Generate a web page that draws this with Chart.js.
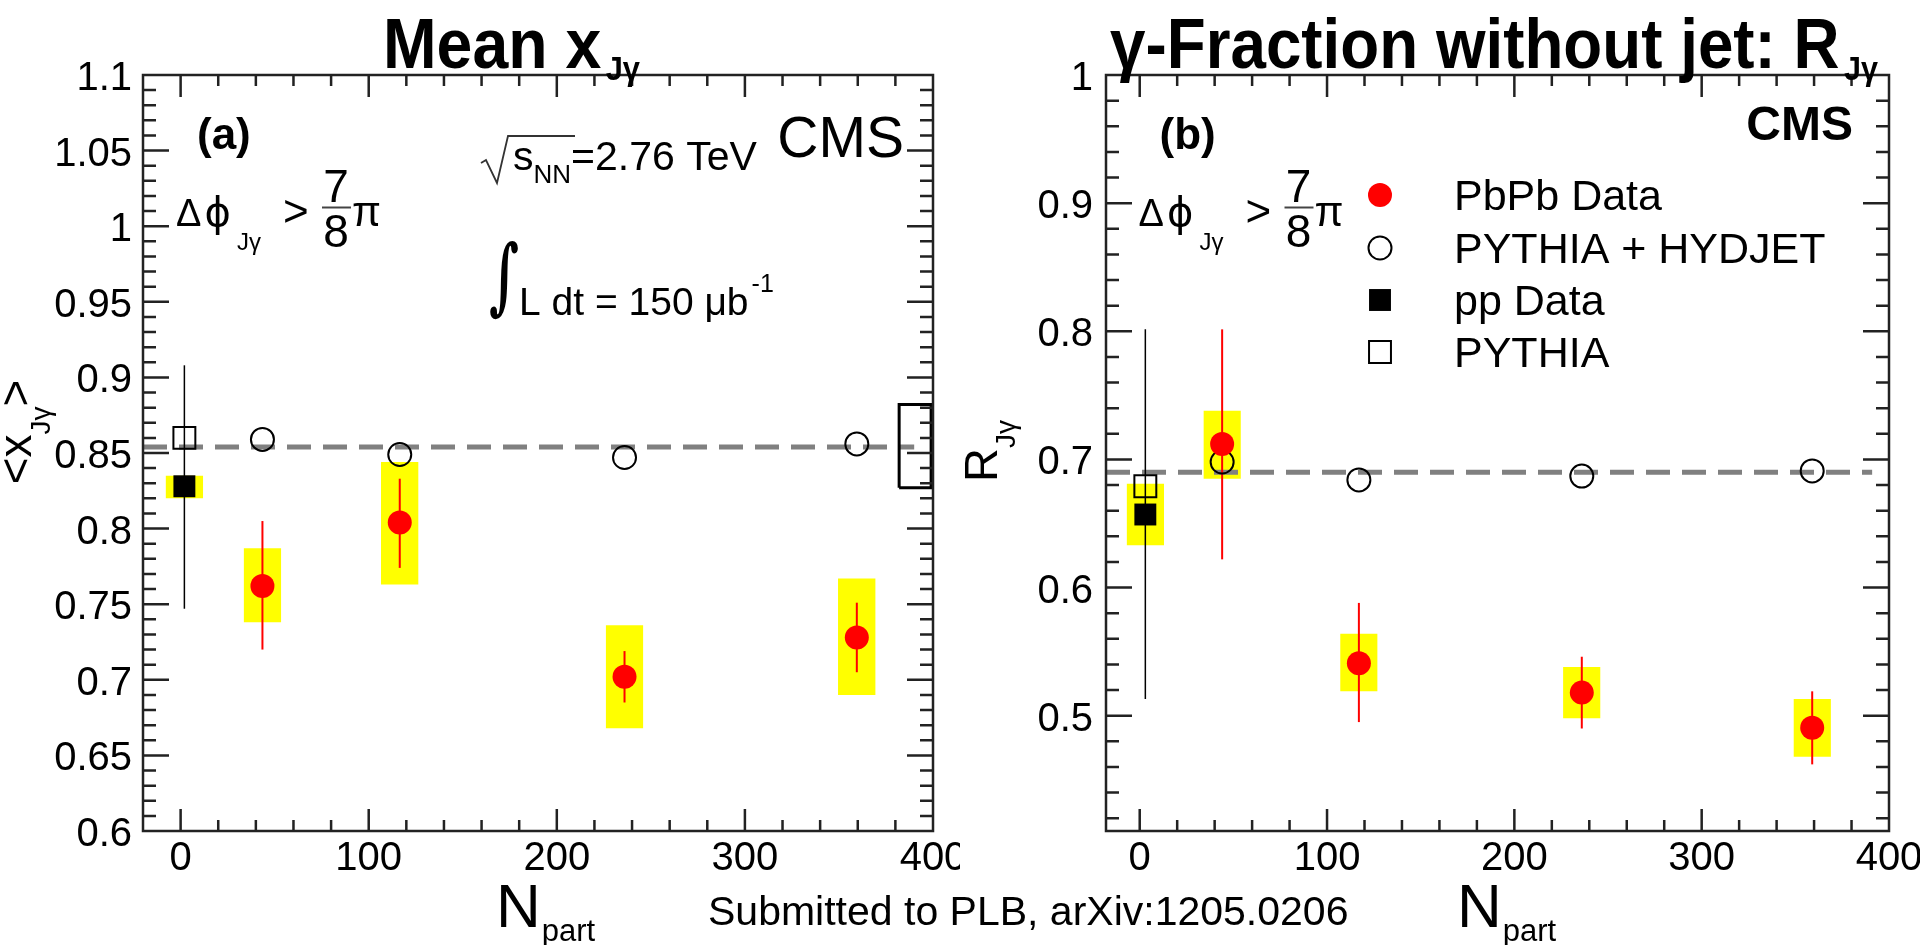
<!DOCTYPE html>
<html>
<head>
<meta charset="utf-8">
<title>Mean xJγ and RJγ vs Npart</title>
<script src="https://cdn.jsdelivr.net/npm/chart.js@4.4.1/dist/chart.umd.min.js"></script>
<style>
  html, body { margin: 0; padding: 0; background: #fff; overflow: hidden; }
  #wrap { position: relative; width: 1920px; height: 945px; }
  .pad { position: absolute; top: 0; width: 960px; height: 945px; overflow: hidden; }
  #note { position: absolute; left: 708px; top: 891px; font: 41px/1 "Liberation Sans", Arial, sans-serif; white-space: nowrap; color: #000; }
</style>
</head>
<body>
<div id="wrap">
  <div class="pad" style="left:0"><canvas id="cA" width="960" height="945"></canvas></div>
  <div class="pad" style="left:960px"><canvas id="cB" width="960" height="945"></canvas></div>
  <div id="note">Submitted to PLB, arXiv:1205.0206</div>
</div>
<script>
// N_part of the four PbPb centrality bins
const nPartA = [43.5, 116.5, 236, 359.5];
const nPartB = [44, 117, 236, 359];

// (a) mean x_Jγ
const xjPbPb   = [0.762, 0.804, 0.702, 0.728];
const xjStatLo = [0.720, 0.774, 0.685, 0.705];
const xjStatHi = [0.805, 0.833, 0.719, 0.751];
const xjSysLo  = [0.738, 0.763, 0.668, 0.690];
const xjSysHi  = [0.787, 0.844, 0.736, 0.767];
const xjHydjet = [0.859, 0.849, 0.847, 0.856];
const xjPp     = [2, 0.828];      // N_part, value
const xjPpStat = [0.747, 0.908];
const xjPpSys  = [0.820, 0.835];
const xjPythia = [2, 0.860];
const xjRefN   = [-20, 390];      // dashed PYTHIA+HYDJET mean
const xjRefY   = 0.854;
const xjNormN  = [382, 399];      // normalisation uncertainty box
const xjNormY  = [0.827, 0.882];

// (b) R_Jγ
const rjPbPb   = [0.712, 0.541, 0.518, 0.4905];
const rjStatLo = [0.622, 0.495, 0.490, 0.462];
const rjStatHi = [0.8015, 0.588, 0.546, 0.519];
const rjSysLo  = [0.685, 0.519, 0.498, 0.468];
const rjSysHi  = [0.738, 0.564, 0.538, 0.513];
const rjHydjet = [0.698, 0.684, 0.687, 0.691];
const rjPp     = [3, 0.657];
const rjPpStat = [0.513, 0.8015];
const rjPpSys  = [0.633, 0.681];
const rjPythia = [3, 0.679];
const rjRefN   = [-18, 391];
const rjRefY   = 0.690;

// axes
const nTicks = [0, 100, 200, 300, 400];
const nTickLabels = ['0', '100', '200', '300', '400'];
const xjTicks = [0.6, 0.65, 0.7, 0.75, 0.8, 0.85, 0.9, 0.95, 1, 1.05, 1.1];
const xjTickLabels = ['0.6', '0.65', '0.7', '0.75', '0.8', '0.85', '0.9', '0.95', '1', '1.05', '1.1'];
const rjTicks = [0.5, 0.6, 0.7, 0.8, 0.9, 1];
const rjTickLabels = ['0.5', '0.6', '0.7', '0.8', '0.9', '1'];
const legendLabels = ['PbPb Data', 'PYTHIA + HYDJET', 'pp Data', 'PYTHIA'];

const SYS_HALF = 10; // half width of the systematic boxes in N_part
const FONT = '"Liberation Sans", Arial, Helvetica, "DejaVu Sans", sans-serif';
const SERIF = '"DejaVu Serif", "Liberation Serif", serif';
const RED = '#ff0000', YELLOW = '#ffff00', GRAY = '#808080', INK = '#222';
const NONE = 'rgba(0,0,0,0)';

const markers = {
  pbpb:   { pointStyle: 'circle', radius: 12,   fill: RED,    stroke: RED,    bw: 0 },
  hydjet: { pointStyle: 'circle', radius: 11.5, fill: NONE,   stroke: '#000', bw: 2 },
  pp:     { pointStyle: 'rect',   radius: 15.5, fill: '#000', stroke: '#000', bw: 0 },
  pythia: { pointStyle: 'rect',   radius: 15.5, fill: NONE,   stroke: '#000', bw: 2 }
};

function f(size, bold) { return (bold ? 'bold ' : '') + size + 'px ' + FONT; }

function band(n, lo, hi) {
  return { type: 'line', data: [{ x: n - SYS_HALF, y: hi }, { x: n + SYS_HALF, y: hi }],
    fill: { value: lo }, backgroundColor: YELLOW, borderColor: NONE, borderWidth: 0, pointRadius: 0, order: 10 };
}
function vbar(n, lo, hi, color, w) {
  return { type: 'line', data: [{ x: n, y: lo }, { x: n, y: hi }],
    borderColor: color, borderWidth: w, pointRadius: 0, fill: false, order: 7 };
}
function marks(pts, m, order) {
  return { type: 'scatter', data: pts, pointStyle: m.pointStyle, pointRadius: m.radius,
    pointBackgroundColor: m.fill, pointBorderColor: m.stroke, pointBorderWidth: m.bw, order: order };
}

function makeDatasets(d) {
  const ds = [];
  d.n.forEach((n, i) => ds.push(band(n, d.sysLo[i], d.sysHi[i])));
  ds.push(band(d.pp[0], d.ppSys[0], d.ppSys[1]));
  ds.push({ type: 'line', data: d.refN.map(x => ({ x: x, y: d.refY })), borderColor: GRAY, borderWidth: 5,
    borderDash: [24, 12], pointRadius: 0, fill: false, order: 9 });
  if (d.normN) {
    const c = [[0, 0], [1, 0], [1, 1], [0, 1], [0, 0]];
    ds.push({ type: 'line', data: c.map(([i, j]) => ({ x: d.normN[i], y: d.normY[j] })), borderColor: '#000',
      borderWidth: 3, borderJoinStyle: 'miter', pointRadius: 0, fill: false, order: 8 });
  }
  d.n.forEach((n, i) => ds.push(vbar(n, d.statLo[i], d.statHi[i], RED, 2)));
  ds.push(vbar(d.pp[0], d.ppStat[0], d.ppStat[1], '#000', 1.5));
  ds.push(marks(d.n.map((n, i) => ({ x: n, y: d.hydjet[i] })), markers.hydjet, 5));
  ds.push(marks([{ x: d.pythia[0], y: d.pythia[1] }], markers.pythia, 5));
  ds.push(marks([{ x: d.pp[0], y: d.pp[1] }], markers.pp, 4));
  ds.push(marks(d.n.map((n, i) => ({ x: n, y: d.pbpb[i] })), markers.pbpb, 3));
  return ds;
}

// text with sub/superscript pieces; optional horizontal squeeze and rotation
function drawRich(ctx, parts, x, y, o) {
  o = o || {};
  ctx.save();
  ctx.translate(x, y);
  if (o.rot) ctx.rotate(o.rot);
  let w = 0;
  parts.forEach(p => { ctx.font = p.f; p.w = ctx.measureText(p.t).width; w += p.w + (p.gap || 0); });
  if (o.width) ctx.scale(o.width / w, 1);
  let cx = o.align === 'center' ? -w / 2 : o.align === 'right' ? -w : 0;
  ctx.textAlign = 'left';
  ctx.textBaseline = 'alphabetic';
  ctx.fillStyle = '#000';
  parts.forEach(p => { ctx.font = p.f; ctx.fillText(p.t, cx, p.dy || 0); cx += p.w + (p.gap || 0); });
  ctx.restore();
}

function drawMarker(ctx, m, x, y) {
  ctx.save();
  ctx.fillStyle = m.fill; ctx.strokeStyle = m.stroke; ctx.lineWidth = m.bw || 1;
  ctx.beginPath();
  if (m.pointStyle === 'circle') ctx.arc(x, y, m.radius, 0, Math.PI * 2);
  else { const s = m.radius * Math.SQRT1_2; ctx.rect(x - s, y - s, 2 * s, 2 * s); }
  ctx.fill();
  if (m.bw > 0) ctx.stroke();
  ctx.restore();
}

function drawDphi(ctx, x0) {
  drawRich(ctx, [{ t: 'Δ', f: f(38), gap: 3 }, { t: 'ϕ', f: '40px "DejaVu Sans", sans-serif' }], x0, 226);
  drawRich(ctx, [{ t: 'Jγ', f: f(24) }], x0 + 61, 250);
  drawRich(ctx, [{ t: '>', f: f(44) }], x0 + 107, 226);
  drawRich(ctx, [{ t: '7', f: f(46) }], x0 + 160, 202, { align: 'center' });
  ctx.save(); ctx.strokeStyle = '#444'; ctx.lineWidth = 2;
  ctx.beginPath(); ctx.moveTo(x0 + 146, 207.5); ctx.lineTo(x0 + 175, 207.5); ctx.stroke(); ctx.restore();
  drawRich(ctx, [{ t: '8', f: f(46) }], x0 + 160, 247, { align: 'center' });
  drawRich(ctx, [{ t: 'π', f: f(42) }], x0 + 176, 226);
}

function textsA(ctx) {
  drawRich(ctx, [{ t: 'Mean x', f: f(71, true), gap: 5 }, { t: 'Jγ', f: f(34, true), dy: 12 }], 383, 68, { width: 257 });
  drawRich(ctx, [{ t: '(a)', f: f(44, true) }], 197, 149);
  drawRich(ctx, [{ t: 'CMS', f: f(57) }], 904, 157, { align: 'right' });
  drawDphi(ctx, 176);
  ctx.save(); ctx.strokeStyle = '#333'; ctx.lineWidth = 1.8;
  ctx.beginPath(); ctx.moveTo(481, 163); ctx.lineTo(486, 160); ctx.lineTo(497, 183); ctx.lineTo(508, 136); ctx.lineTo(575, 136);
  ctx.stroke(); ctx.restore();
  drawRich(ctx, [{ t: 's', f: f(41) }, { t: 'NN', f: f(26), dy: 13 }, { t: '=2.76 TeV', f: f(41) }], 513, 170);
  ctx.save(); ctx.translate(489, 304); ctx.scale(1, 1.6); ctx.font = 'bold 52px ' + SERIF; ctx.fillStyle = '#000';
  ctx.fillText('∫', 0, 0); ctx.restore();
  drawRich(ctx, [{ t: 'L dt = 150 μb', f: f(39), gap: 3 }, { t: '-1', f: f(25), dy: -23 }], 519, 315);
  drawRich(ctx, [{ t: '<x', f: f(46) }, { t: 'Jγ', f: f(28), dy: 19 }, { t: '>', f: f(46) }], 31, 432, { rot: -Math.PI / 2, align: 'center' });
  drawRich(ctx, [{ t: 'N', f: f(62), gap: 1 }, { t: 'part', f: f(31), dy: 14 }], 496, 927);
}

function textsB(ctx) {
  drawRich(ctx, [{ t: 'γ-Fraction without jet: R', f: f(71, true), gap: 5 }, { t: 'Jγ', f: f(34, true), dy: 12 }], 150, 68, { width: 768 });
  drawRich(ctx, [{ t: '(b)', f: f(44, true) }], 199.5, 149);
  drawRich(ctx, [{ t: 'CMS', f: f(48, true) }], 893, 140, { align: 'right' });
  drawDphi(ctx, 178.5);
  const rows = [195, 248, 300, 352];
  const ms = [markers.pbpb, markers.hydjet, markers.pp, markers.pythia];
  legendLabels.forEach((lab, i) => {
    drawMarker(ctx, ms[i], 420, rows[i]);
    drawRich(ctx, [{ t: lab, f: f(43) }], 494, rows[i] + 15);
  });
  drawRich(ctx, [{ t: 'R', f: f(47) }, { t: 'Jγ', f: f(28), dy: 18 }], 37, 451, { rot: -Math.PI / 2, align: 'center' });
  drawRich(ctx, [{ t: 'N', f: f(62), gap: 1 }, { t: 'part', f: f(31), dy: 14 }], 497, 927);
}

// ROOT-like frame with inward major/minor ticks on all four sides
function frameTicks(ax) {
  return {
    id: 'frameTicks',
    afterDatasetsDraw(c) {
      const ctx = c.ctx, a = c.chartArea, xs = c.scales.x, ys = c.scales.y;
      ctx.save();
      ctx.strokeStyle = INK; ctx.lineWidth = 2.5;
      ctx.beginPath();
      for (let k = Math.ceil(xs.min / 20); k * 20 <= xs.max; k++) {
        const p = xs.getPixelForValue(k * 20);
        if (p < a.left + 2 || p > a.right - 2) continue;
        const L = (k * 20) % 100 === 0 ? 22 : 11;
        ctx.moveTo(p, a.bottom); ctx.lineTo(p, a.bottom - L);
        ctx.moveTo(p, a.top); ctx.lineTo(p, a.top + L);
      }
      const per = Math.round(ax.yMajor / ax.yMinor);
      for (let k = Math.ceil(ys.min / ax.yMinor - 1e-6); k * ax.yMinor <= ys.max + 1e-9; k++) {
        const p = ys.getPixelForValue(k * ax.yMinor);
        if (p < a.top + 2 || p > a.bottom - 2) continue;
        const L = k % per === 0 ? 26 : 13;
        ctx.moveTo(a.left, p); ctx.lineTo(a.left + L, p);
        ctx.moveTo(a.right, p); ctx.lineTo(a.right - L, p);
      }
      ctx.stroke();
      ctx.strokeRect(a.left, a.top, a.right - a.left, a.bottom - a.top);
      ctx.restore();
    }
  };
}

function makeChart(id, d, ax, texts) {
  const tickFont = { family: FONT, size: 40, lineHeight: 1 };
  return new Chart(document.getElementById(id), {
    type: 'scatter',
    data: { datasets: makeDatasets(d) },
    options: {
      responsive: false, animation: false, events: [], devicePixelRatio: 1,
      layout: { padding: { left: 0, top: 75, right: ax.padRight, bottom: 0 } },
      plugins: { legend: { display: false }, tooltip: { enabled: false }, title: { display: false } },
      scales: {
        x: {
          type: 'linear', min: ax.xMin, max: 400,
          afterBuildTicks: s => { s.ticks = nTicks.map(v => ({ value: v })); },
          afterFit: s => { s.height = 114; s.paddingLeft = 0; s.paddingRight = 0; },
          ticks: { callback: (v, i) => nTickLabels[i], font: tickFont, color: '#000', padding: 8, maxRotation: 0, autoSkip: false },
          grid: { display: false, drawTicks: false }, border: { display: false }
        },
        y: {
          type: 'linear', min: ax.yMin, max: ax.yMax,
          afterBuildTicks: s => { s.ticks = ax.yTicks.map(v => ({ value: v })); },
          afterFit: s => { s.width = ax.axisW; s.paddingTop = 0; s.paddingBottom = 0; },
          ticks: { callback: (v, i) => ax.yLabels[i], font: tickFont, color: '#000', padding: ax.labelPad, labelOffset: 4, autoSkip: false },
          grid: { display: false, drawTicks: false }, border: { display: false }
        }
      }
    },
    plugins: [frameTicks(ax), { id: 'texts', afterDraw: c => texts(c.ctx) }]
  });
}

makeChart('cA', {
  n: nPartA, pbpb: xjPbPb, statLo: xjStatLo, statHi: xjStatHi, sysLo: xjSysLo, sysHi: xjSysHi,
  hydjet: xjHydjet, pp: xjPp, ppStat: xjPpStat, ppSys: xjPpSys, pythia: xjPythia,
  refN: xjRefN, refY: xjRefY, normN: xjNormN, normY: xjNormY
}, { xMin: -20, yMin: 0.6, yMax: 1.1, yTicks: xjTicks, yLabels: xjTickLabels, yMajor: 0.05, yMinor: 0.01,
     axisW: 143, padRight: 27, labelPad: 11 }, textsA);

makeChart('cB', {
  n: nPartB, pbpb: rjPbPb, statLo: rjStatLo, statHi: rjStatHi, sysLo: rjSysLo, sysHi: rjSysHi,
  hydjet: rjHydjet, pp: rjPp, ppStat: rjPpStat, ppSys: rjPpSys, pythia: rjPythia,
  refN: rjRefN, refY: rjRefY
}, { xMin: -18, yMin: 0.41, yMax: 1.0, yTicks: rjTicks, yLabels: rjTickLabels, yMajor: 0.1, yMinor: 0.02,
     axisW: 146, padRight: 31, labelPad: 13 }, textsB);
</script>
</body>
</html>
